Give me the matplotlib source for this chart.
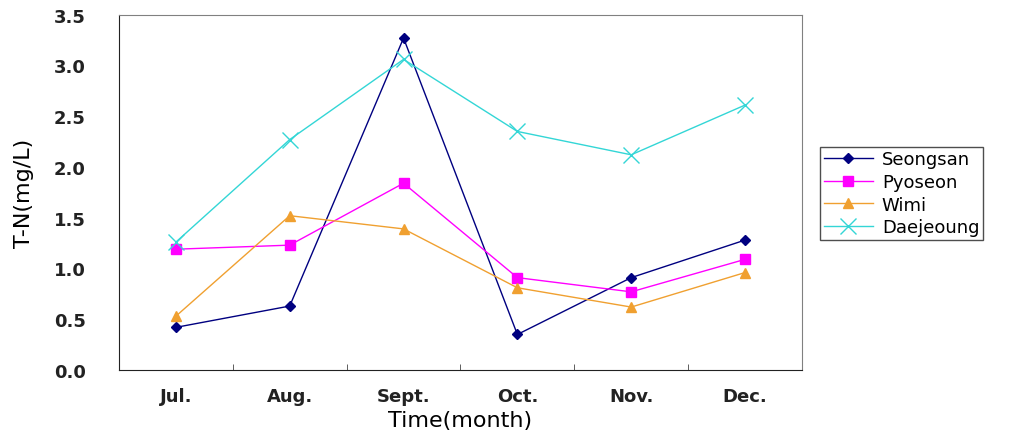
import numpy as np
import matplotlib.pyplot as plt

months = ['Jul.', 'Aug.', 'Sept.', 'Oct.', 'Nov.', 'Dec.']
seongsan = [0.42, 0.63, 3.27, 0.35, 0.91, 1.28]
pyoseon = [1.19, 1.23, 1.84, 0.91, 0.77, 1.09]
wimi = [0.53, 1.52, 1.39, 0.81, 0.62, 0.96]
daejeoung = [1.26, 2.27, 3.06, 2.35, 2.12, 2.61]

fig = plt.figure(figsize=(10.22, 4.39), dpi=100)
ax = fig.add_axes([0.1164, 0.1549, 0.6683, 0.8093])

x = np.arange(len(months))
ax.plot(x, seongsan, color='#000080', lw=1, marker='D', ms=5, label='Seongsan')
ax.plot(x, pyoseon, color='#FF00FF', lw=1, marker='s', ms=6.5, label='Pyoseon')
ax.plot(x, wimi, color='#F0A030', lw=1, marker='^', ms=7, label='Wimi')
ax.plot(x, daejeoung, color='#33D6D6', lw=1, marker='x', ms=11, mew=1, label='Daejeoung')

ax.set_xlim(-0.5, len(months) - 0.5)
ax.set_ylim(0, 3.5)
ax.set_yticks(np.arange(0, 3.51, 0.5))
ax.set_yticklabels(['%.1f' % v for v in np.arange(0, 3.51, 0.5)])
ax.set_xticks(x)
ax.set_xticklabels(months)
ax.set_xticks(np.arange(0.5, len(months) - 1, 1), minor=True)

ax.tick_params(axis='y', length=0, pad=24, labelsize=13)
ax.tick_params(axis='x', which='major', length=0, pad=12, labelsize=13)
ax.tick_params(axis='x', which='minor', length=4, direction='in', color='#444444')
for lbl in ax.get_xticklabels() + ax.get_yticklabels():
    lbl.set_fontweight('bold')
    lbl.set_color('#222222')

for s in ['top', 'right']:
    ax.spines[s].set_color('#808080')
for s in ['left', 'bottom']:
    ax.spines[s].set_color('#222222')

ax.set_ylabel('T-N(mg/L)', fontsize=16, labelpad=14)
ax.set_xlabel('Time(month)', fontsize=16, labelpad=4)

leg = ax.legend(loc='upper left', bbox_to_anchor=(1.027, 0.628), fontsize=13,
                frameon=True, fancybox=False, edgecolor='#222222',
                handlelength=2.7, handletextpad=0.5, labelspacing=0.25,
                borderpad=0.2, borderaxespad=0)
leg.get_frame().set_linewidth(1)

fig.savefig('out.png', dpi=100)
